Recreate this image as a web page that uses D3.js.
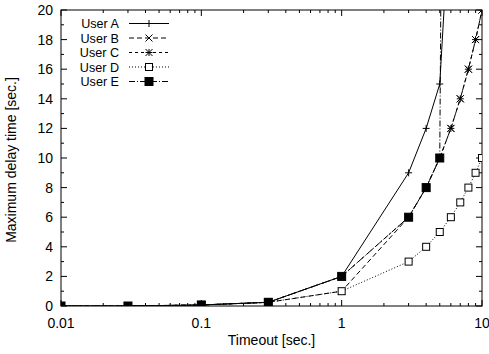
<!DOCTYPE html>
<html><head><meta charset="utf-8">
<script src="https://cdn.jsdelivr.net/npm/d3@7"></script>
<style>body{margin:0;background:#fff}svg{display:block}text{font-family:"Liberation Sans",Arial,sans-serif;font-size:14px;fill:#000}text.lg{font-size:12.6px}</style>
</head><body><svg id="c" width="489" height="354"></svg>
<script>
const seriesNames = ["User A","User B","User C","User D","User E"];
const timeoutA = [0.01,0.03,0.1,0.3,1,3,4,5,6];
const userA    = [0,0,0.07,0.25,2,9,12,15,28];
const timeoutB = [0.01,0.03,0.1,0.3,1,3,4,5,6,7,8,9,10];
const userB    = [0,0,0.07,0.25,1,6,8,10,12,14,16,18,20];
const timeoutC = [0.01,0.03,0.1,0.3,1,3,4,5,6,7,8,9,10];
const userC    = [0,0,0.07,0.25,2,6,8,10,12,14,16,18,20];
const timeoutD = [0.01,0.03,0.1,0.3,1,3,4,5,6,7,8,9,10];
const userD    = [0,0,0.07,0.25,1,3,4,5,6,7,8,9,10];
const timeoutE = [0.01,0.03,0.1,0.3,1,3,4,5,6];
const userE    = [0,0,0.07,0.25,2,6,8,10,120];
const xTicks = [0.01,0.1,1,10];
const xTickLabels = ["0.01","0.1","1","10"];
const yTicks = [0,2,4,6,8,10,12,14,16,18,20];

const svg = d3.select("#c");
const L=61,R=482,T=10,B=306;
const x = d3.scaleLog().domain([0.01,10]).range([L,R]);
const y = d3.scaleLinear().domain([0,20]).range([B,T]);

svg.append("defs").append("clipPath").attr("id","clip").append("rect")
  .attr("x",L).attr("y",T).attr("width",R-L).attr("height",B-T);

const g = svg.append("g").attr("stroke","#000").attr("stroke-width",1).attr("fill","none");
const minorX=[];
for(let d=0.01; d<10; d*=10){ for(let k=2;k<=9;k++) minorX.push(d*k); }
xTicks.forEach(v=>{
  g.append("line").attr("x1",x(v)).attr("x2",x(v)).attr("y1",B).attr("y2",B-6);
  g.append("line").attr("x1",x(v)).attr("x2",x(v)).attr("y1",T).attr("y2",T+6);
});
minorX.forEach(v=>{
  g.append("line").attr("x1",x(v)).attr("x2",x(v)).attr("y1",B).attr("y2",B-3);
  g.append("line").attr("x1",x(v)).attr("x2",x(v)).attr("y1",T).attr("y2",T+3);
});
d3.range(0,21).forEach(v=>{
  const len = v%2===0?6:3;
  g.append("line").attr("x1",L).attr("x2",L+len).attr("y1",y(v)).attr("y2",y(v));
  g.append("line").attr("x1",R).attr("x2",R-len).attr("y1",y(v)).attr("y2",y(v));
});
g.append("rect").attr("x",L).attr("y",T).attr("width",R-L).attr("height",B-T);

xTicks.forEach((v,i)=>svg.append("text").attr("x",x(v)).attr("y",B+22).attr("text-anchor","middle").text(xTickLabels[i]));
yTicks.forEach(v=>svg.append("text").attr("x",L-8).attr("y",y(v)+5).attr("text-anchor","end").text(v));
svg.append("text").attr("x",(L+R)/2).attr("y",345).attr("text-anchor","middle").text("Timeout [sec.]");
svg.append("text").attr("transform","translate(16,160) rotate(-90)").attr("text-anchor","middle").text("Maximum delay time [sec.]");

function marker(sel, type, cx, cy){
  const s=3.5;
  if(type==="plus"||type==="star"){
    sel.append("line").attr("x1",cx-s).attr("x2",cx+s).attr("y1",cy).attr("y2",cy);
    sel.append("line").attr("x1",cx).attr("x2",cx).attr("y1",cy-s).attr("y2",cy+s);
  }
  if(type==="cross"||type==="star"){
    sel.append("line").attr("x1",cx-s).attr("x2",cx+s).attr("y1",cy-s).attr("y2",cy+s);
    sel.append("line").attr("x1",cx-s).attr("x2",cx+s).attr("y1",cy+s).attr("y2",cy-s);
  }
  if(type==="box"){
    sel.append("rect").attr("x",cx-3.5).attr("y",cy-3.5).attr("width",7).attr("height",7).attr("fill","#fff");
  }
  if(type==="fbox"){
    sel.append("rect").attr("x",cx-4).attr("y",cy-4).attr("width",8).attr("height",8).attr("fill","#000");
  }
}
const series = [
  {xs:timeoutA, ys:userA, dash:null, m:"plus"},
  {xs:timeoutB, ys:userB, dash:"5,3", m:"cross"},
  {xs:timeoutC, ys:userC, dash:"3,3", m:"star"},
  {xs:timeoutD, ys:userD, dash:"1,2", m:"box"},
  {xs:timeoutE, ys:userE, dash:"6,2,1,2", m:"fbox"}
];
const line = d3.line().x(d=>x(d[0])).y(d=>y(d[1]));
const plot = svg.append("g").attr("clip-path","url(#clip)").attr("stroke","#000").attr("fill","none").attr("stroke-width",1);
series.forEach(s=>{
  const pts = s.xs.map((v,i)=>[v,s.ys[i]]);
  plot.append("path").attr("d",line(pts)).attr("stroke-dasharray",s.dash);
});
series.forEach(s=>{
  const gm = plot.append("g");
  s.xs.forEach((v,i)=>{ if(s.ys[i]<=20) marker(gm, s.m, x(v), y(s.ys[i])); });
});

const lg = svg.append("g").attr("stroke","#000").attr("fill","none").attr("stroke-width",1);
series.forEach((s,i)=>{
  const cy = 23.5+14.5*i;
  svg.append("text").attr("class","lg").attr("x",119).attr("y",cy+4.5).attr("text-anchor","end").text(seriesNames[i]);
  lg.append("line").attr("x1",129).attr("x2",169).attr("y1",cy).attr("y2",cy).attr("stroke-dasharray",s.dash);
  marker(lg, s.m, 149, cy);
});
</script></body></html>
